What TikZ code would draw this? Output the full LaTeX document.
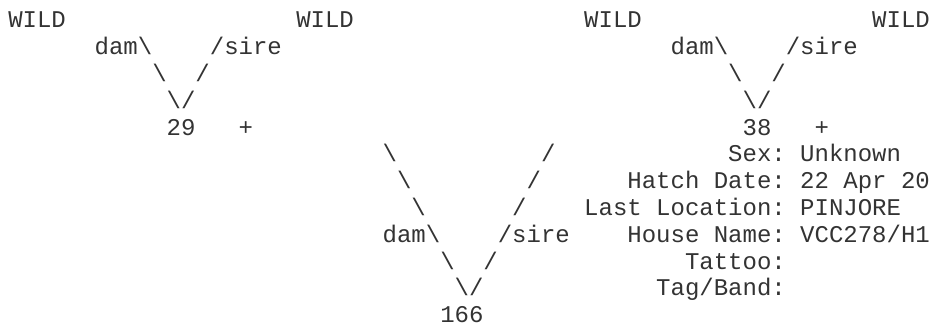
\documentclass[tikz,border=0pt]{standalone}
\usepackage{fontspec}
\setmonofont{Liberation Mono}
\usepackage{tikz}
\definecolor{asciigray}{HTML}{333333}

\begin{document}
\begin{tikzpicture}[x=10.8pt, y=-20.1pt,
    ascii/.style={inner sep=0pt, anchor=base west, text=asciigray,
                  font=\ttfamily\fontsize{18pt}{20pt}\selectfont}]
  \useasboundingbox (-0.556,-1.045) rectangle (64.17,11.194);

  % grandparents
  \node[ascii] (wildA) at (0,0)  {WILD};
  \node[ascii] (wildB) at (20,0) {WILD};
  \node[ascii] (wildC) at (40,0) {WILD};
  \node[ascii] (wildD) at (60,0) {WILD};

  % dam 29
  \node[ascii] (damA)  at (6,1)  {dam\textbackslash};
  \node[ascii] (sireA) at (14,1) {/sire};
  \node[ascii] (bsA)   at (10,2) {\textbackslash};
  \node[ascii] (fsA)   at (13,2) {/};
  \node[ascii] (tipA)  at (11,3) {\textbackslash/};
  \node[ascii] (dam29) at (11,4) {29};
  \node[ascii] (plusA) at (16,4) {+};

  % sire 38
  \node[ascii] (damB)  at (46,1) {dam\textbackslash};
  \node[ascii] (sireB) at (54,1) {/sire};
  \node[ascii] (bsB)   at (50,2) {\textbackslash};
  \node[ascii] (fsB)   at (53,2) {/};
  \node[ascii] (tipB)  at (51,3) {\textbackslash/};
  \node[ascii] (sire38) at (51,4) {38};
  \node[ascii] (plusB) at (56,4) {+};

  % offspring 166
  \foreach \i in {0,1,2} {
    \node[ascii] (bsC\i) at (26+\i,5+\i) {\textbackslash};
    \node[ascii] (fsC\i) at (37-\i,5+\i) {/};
  }
  \node[ascii] (damC)  at (26,8)  {dam\textbackslash};
  \node[ascii] (sireC) at (34,8)  {/sire};
  \node[ascii] (bsD)   at (30,9)  {\textbackslash};
  \node[ascii] (fsD)   at (33,9)  {/};
  \node[ascii] (tipC)  at (31,10) {\textbackslash/};
  \node[ascii] (kid)   at (30,11) {166};

  % details
  \node[ascii] (sexK)   at (50,5)  {Sex:};
  \node[ascii] (sexV)   at (55,5)  {Unknown};
  \node[ascii] (hatchK) at (43,6)  {Hatch Date:};
  \node[ascii] (hatchV) at (55,6)  {22 Apr 20};
  \node[ascii] (locK)   at (40,7)  {Last Location:};
  \node[ascii] (locV)   at (55,7)  {PINJORE};
  \node[ascii] (houseK) at (43,8)  {House Name:};
  \node[ascii] (houseV) at (55,8)  {VCC278/H1};
  \node[ascii] (tatK)   at (47,9)  {Tattoo:};
  \node[ascii] (tagK)   at (45,10) {Tag/Band:};
\end{tikzpicture}
\end{document}
